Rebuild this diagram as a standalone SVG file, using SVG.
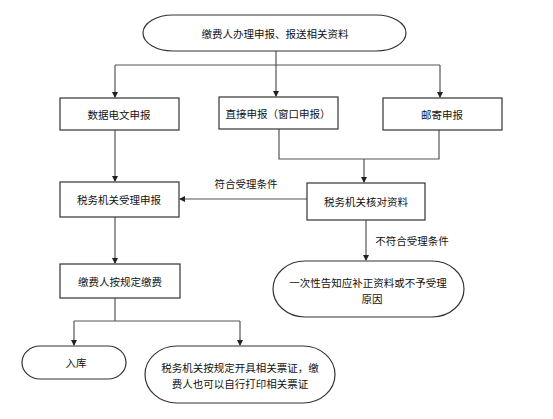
<svg xmlns="http://www.w3.org/2000/svg" width="553" height="419" viewBox="0 0 553 419">
<style>
.n{fill:#fff;stroke:#333;stroke-width:1.2}
.t{font-family:"Noto Sans CJK SC","Noto Sans",sans-serif;font-size:10.5px;fill:#111;text-anchor:middle;dominant-baseline:central}
.c{fill:none;stroke:#555;stroke-width:1.2}
</style>
<defs>
<marker id="a" markerWidth="6" markerHeight="6" refX="5" refY="3" orient="auto" markerUnits="userSpaceOnUse">
<path d="M0,0 L6,3 L0,6 Z" fill="#222"/>
</marker>
</defs>
<rect width="553" height="419" fill="#fff"/>
<g id="connectors">
<path class="c" d="M276,51 V65"/>
<path class="c" d="M115,65 H440"/>
<path class="c" d="M115,65 V97" marker-end="url(#a)"/>
<path class="c" d="M276,65 V96" marker-end="url(#a)"/>
<path class="c" d="M440,65 V97" marker-end="url(#a)"/>
<path class="c" d="M115,130 V181" marker-end="url(#a)"/>
<path class="c" d="M279,129 V159 H439 V130"/>
<path class="c" d="M364,159 V182" marker-end="url(#a)"/>
<path class="c" d="M307,199 H180" marker-end="url(#a)"/>
<path class="c" d="M366,220 V260" marker-end="url(#a)"/>
<path class="c" d="M115,217 V263" marker-end="url(#a)"/>
<path class="c" d="M115,298 V321"/>
<path class="c" d="M74,321 H240"/>
<path class="c" d="M74,321 V345" marker-end="url(#a)"/>
<path class="c" d="M240,321 V345" marker-end="url(#a)"/>
<text class="t" x="246" y="183">符合受理条件</text>
<text class="t" x="412" y="240">不符合受理条件</text>
</g>
<g id="start">
<rect class="n" x="143" y="15" width="263" height="36" rx="30" ry="18"/>
<text class="t" x="275" y="33">缴费人办理申报、报送相关资料</text>
</g>
<g id="b1">
<rect class="n" x="60" y="98" width="119" height="32"/>
<text class="t" x="119" y="114">数据电文申报</text>
</g>
<g id="b2">
<rect class="n" x="219" y="97" width="119" height="32"/>
<text class="t" x="278" y="113">直接申报（窗口申报）</text>
</g>
<g id="b3">
<rect class="n" x="383" y="98" width="119" height="32"/>
<text class="t" x="442" y="114">邮寄申报</text>
</g>
<g id="b4">
<rect class="n" x="60" y="182" width="119" height="35"/>
<text class="t" x="119" y="199">税务机关受理申报</text>
</g>
<g id="b5">
<rect class="n" x="307" y="183" width="118" height="37"/>
<text class="t" x="366" y="201">税务机关核对资料</text>
</g>
<g id="b6">
<rect class="n" x="273" y="261" width="191" height="56" rx="32" ry="28"/>
<text class="t" x="368" y="282">一次性告知应补正资料或不予受理</text>
<text class="t" x="372" y="298">原因</text>
</g>
<g id="b7">
<rect class="n" x="60" y="264" width="120" height="34"/>
<text class="t" x="120" y="281">缴费人按规定缴费</text>
</g>
<g id="b8">
<rect class="n" x="22" y="346" width="104" height="33" rx="18" ry="16.5"/>
<text class="t" x="76" y="362">入库</text>
</g>
<g id="b9">
<rect class="n" x="145" y="346" width="190" height="57" rx="32" ry="28.5"/>
<text class="t" x="240" y="367">税务机关按规定开具相关票证，缴</text>
<text class="t" x="240" y="383">费人也可以自行打印相关票证</text>
</g>
</svg>
